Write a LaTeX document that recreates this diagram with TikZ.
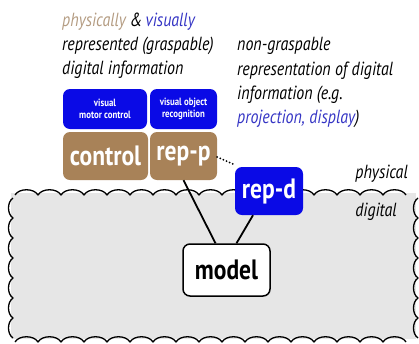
\documentclass[tikz,border=0pt]{standalone}
\usepackage{fontspec}
\setmainfont{PT Sans}[FakeStretch=0.84]
\definecolor{tanbox}{HTML}{A88258}
\definecolor{tantext}{HTML}{B49C82}
\definecolor{bluebox}{HTML}{0A0AE6}
\definecolor{bluetext}{HTML}{3434C4}
\definecolor{grayfill}{HTML}{E6E6E6}
\begin{document}
\begin{tikzpicture}[x=1pt,y=-1pt,
  txt/.style={anchor=base west,inner sep=0pt,font=\fontsize{19}{21}\selectfont\itshape},
  rtxt/.style={anchor=base east,inner sep=0pt,font=\fontsize{19}{21}\selectfont\itshape},
  bbox/.style={rounded corners=7pt,fill=bluebox,text=white,align=center,inner sep=0pt,
    font=\fontsize{10.5}{12}\selectfont\bfseries},
  tbox/.style={rounded corners=7pt,fill=tanbox,text=white,inner sep=0pt,
    font=\fontsize{28}{30}\selectfont\bfseries},
  wave/.style={line width=1.3pt,line join=round}]
\useasboundingbox (0,0) rectangle (419,343);
% digital region
\fill[grayfill] (11,193) rectangle (416,339);
\draw[wave] (15,195) \foreach \i in {1,...,17}{ .. controls +(4,-7) and +(-4,-7) .. ++(23,0)};
\draw[wave] (15,342) \foreach \i in {1,...,17}{ .. controls +(4,-7) and +(-4,-7) .. ++(23,0)};
\draw[wave] (13,198) \foreach \i in {1,...,7}{ .. controls +(-6,4) and +(-6,-4) .. ++(0,20)};
\draw[wave] (418,198) \foreach \i in {1,...,7}{ .. controls +(-6,4) and +(-6,-4) .. ++(0,20)};
% texts
\node[txt] (l1) at (62,26) {\textcolor{tantext}{physically} \&\,\textcolor{bluetext}{visually}};
\node[txt] (l2) at (62,50) {represented (graspable)};
\node[txt] (l3) at (62,74) {digital information};
\node[txt] (r1) at (237,50) {non-graspable};
\node[txt] (r2) at (237,75) {representation of digital};
\node[txt] (r3) at (237,99) {information (e.g.};
\node[txt] (r4) at (237,123) {\textcolor{bluetext}{projection, display})};
\node[rtxt] (phys) at (408,178) {physical};
\node[rtxt] (dig) at (397,216) {digital};
% boxes
\node[bbox,minimum width=84pt,minimum height=40pt] (vmc) at (105,109) {visual\\motor control};
\node[bbox,minimum width=67pt,minimum height=40pt] (vor) at (183.5,109) {visual object\\recognition};
\node[tbox,minimum width=85pt,minimum height=48pt] (control) at (105.5,156) {control};
\node[tbox,minimum width=67pt,minimum height=48pt] (repp) at (183.5,156) {rep-p};
\node[tbox,fill=bluebox,minimum width=68pt,minimum height=48pt] (repd) at (269,191) {rep-d};
\node[draw,line width=1.5pt,rounded corners=7pt,fill=white,minimum width=87pt,minimum height=52pt,
  inner sep=0pt,font=\fontsize{28}{30}\selectfont\bfseries] (model) at (226.5,270) {model};
\draw[line width=1.8pt] (repp.south) -- ([xshift=-11pt]model.north);
\draw[line width=1.8pt] ([xshift=-16pt]repd.south) -- ([xshift=10pt]model.north);
\draw[line width=2pt,line cap=round,dash pattern=on 0pt off 3.4pt] ([yshift=-1pt]repp.east) -- ([yshift=2pt]repd.north west);
\end{tikzpicture}
\end{document}
